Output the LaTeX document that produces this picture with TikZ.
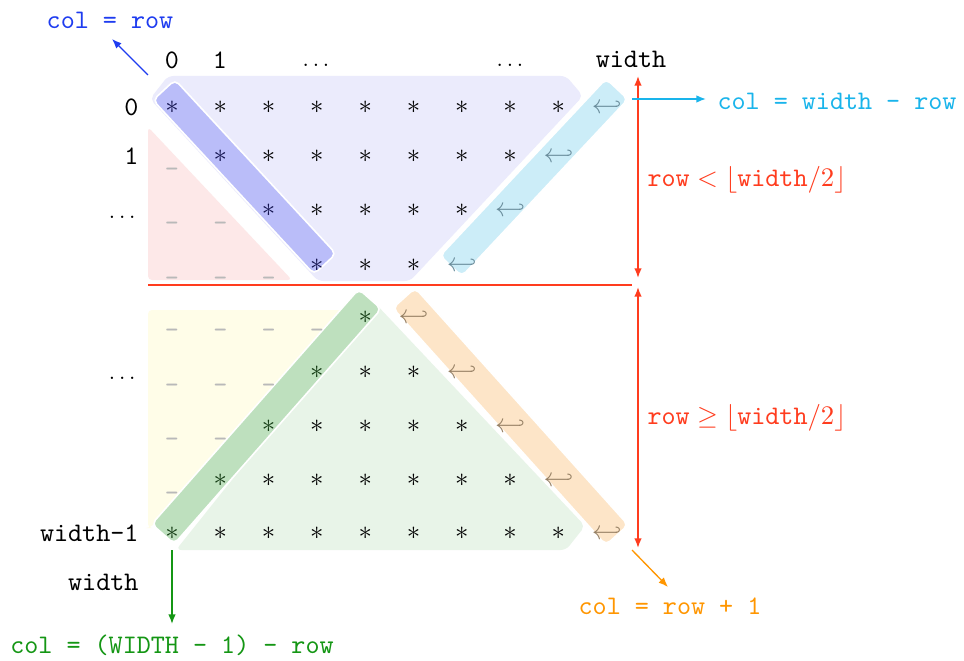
\documentclass[tikz,border=0pt]{standalone}
\usepackage{fontspec}
\usetikzlibrary{calc,arrows.meta}
\definecolor{lav}{RGB}{235,235,252}
\definecolor{pinkbg}{RGB}{253,232,232}
\definecolor{yelbg}{RGB}{255,253,232}
\definecolor{grnbg}{RGB}{232,244,232}
\definecolor{bandblue}{RGB}{186,189,249}
\definecolor{bandcyan}{RGB}{204,237,248}
\definecolor{bandorange}{RGB}{253,229,200}
\definecolor{bandgreen}{RGB}{190,224,190}
\definecolor{cred}{RGB}{255,60,30}
\definecolor{cblue}{RGB}{30,60,240}
\definecolor{ccyan}{RGB}{25,180,235}
\definecolor{corange}{RGB}{255,150,0}
\definecolor{cgreen}{RGB}{20,150,20}
\definecolor{dashgray}{RGB}{185,185,185}
\definecolor{navy}{RGB}{20,20,80}
\definecolor{dgreen}{RGB}{20,60,20}
\definecolor{hookcyan}{RGB}{105,140,155}
\definecolor{hookorange}{RGB}{150,128,100}
\newcommand\bandfill[4]{%
  \coordinate (bA) at #2; \coordinate (bB) at #3;
  \fill[#1, draw=white, line width=0.6pt, rounded corners=2pt]
    ($(bA)!#4!90:(bB)$) -- ($(bB)!#4!-90:(bA)$) -- ($(bB)!#4!90:(bA)$) -- ($(bA)!#4!-90:(bB)$) -- cycle;
}
\newcommand\smalldots{{\footnotesize$\ldots$}}
\tikzset{
  starn/.style={inner sep=0pt},
  hookn/.style={inner sep=0pt},
  dashn/.style={inner sep=0pt, text=dashgray, font=\ttfamily},
  tt/.style={inner sep=0pt, font=\ttfamily},
  dotn/.style={inner sep=0pt},
  arr/.style={-{Latex[length=3.6pt,width=2.8pt]}, line width=0.5pt},
  darr/.style={{Latex[length=3.6pt,width=2.8pt]}-{Latex[length=3.6pt,width=2.8pt]}, line width=0.6pt},
}
\begin{document}
\begin{tikzpicture}[x=0.3735pt,y=-0.3735pt]
\useasboundingbox (0,0) rectangle (964,660);
\fill[white] (0,0) rectangle (964,660);
% background regions
\fill[lav, rounded corners=2pt] (150,99) -- (168,76) -- (566,76) -- (583,96) -- (410,281) -- (318,281) -- cycle;
\fill[pinkbg, rounded corners=1.5pt] (148,127) -- (148,280) -- (292,280) -- cycle;
\fill[yelbg, rounded corners=1.5pt] (148,310) -- (352,310) -- (150,528) -- (148,528) -- cycle;
\fill[grnbg, rounded corners=2pt] (374,302) -- (585,526) -- (566,550) -- (176,550) -- cycle;
% bands
\bandfill{bandblue}{(164,90)}{(325,264)}{5.6pt}
\bandfill{bandcyan}{(617,89)}{(451,266)}{5.6pt}
\bandfill{bandorange}{(404,298)}{(617,535)}{5.6pt}
\bandfill{bandgreen}{(370,299)}{(163,534)}{5.6pt}
% upper half
\foreach \r/\y in {0/107,1/156,2/210,3/265}{
  \ifnum\r>0
    \foreach \c in {1,...,\r}{\node[dashn] (d\r-\c) at ({172+48.3*(\c-1)},{\y+12}) {\_};}
  \fi
  \pgfmathtruncatemacro\cs{\r+1}
  \pgfmathtruncatemacro\ce{8-\r}
  \pgfmathtruncatemacro\ch{9-\r}
  \node[starn, text=navy] (s\r-\r) at ({172+48.3*\r},\y) {$*$};
  \foreach \c in {\cs,...,\ce}{\node[starn] (s\r-\c) at ({172+48.3*\c},\y) {$*$};}
  \node[hookn, text=hookcyan] (h\r) at ({172+48.3*\ch},\y) {$\hookleftarrow$};
}
% lower half
\foreach \k/\y in {0/317,1/372,2/426,3/480,4/533}{
  \pgfmathtruncatemacro\nd{4-\k}
  \ifnum\nd>0
    \foreach \c in {1,...,\nd}{\node[dashn] (e\k-\c) at ({172+48.3*(\c-1)},{\y+12}) {\_};}
  \fi
  \pgfmathtruncatemacro\cd{4-\k}
  \node[starn, text=dgreen] (t\k-\cd) at ({172+48.3*\cd},\y) {$*$};
  \ifnum\k>0
    \pgfmathtruncatemacro\cs{5-\k}
    \pgfmathtruncatemacro\ce{4+\k}
    \foreach \c in {\cs,...,\ce}{\node[starn] (t\k-\c) at ({172+48.3*\c},\y) {$*$};}
  \fi
  \pgfmathtruncatemacro\ch{5+\k}
  \node[hookn, text=hookorange] (g\k) at ({172+48.3*\ch},\y) {$\hookleftarrow$};
}
% column labels
\node[tt] (c0) at (172,60) {0};
\node[tt] (c1) at (220,60) {1};
\node[dotn] (c2) at (316,65) {\smalldots};
\node[dotn] (c3) at (510,65) {\smalldots};
\node[tt] (cw) at (631,59) {width};
% row labels
\node[tt, anchor=east] (r0) at (139,107) {0};
\node[tt, anchor=east] (r1) at (139,156) {1};
\node[dotn, anchor=east] (r2) at (136,217) {\smalldots};
\node[dotn, anchor=east] (r3) at (136,378) {\smalldots};
\node[tt, anchor=east] (rw1) at (139,533) {width-1};
\node[tt, anchor=east] (rw) at (139,582) {width};
% red divider and ranges
\coordinate (ls) at (148,285); \coordinate (le) at (632,285);
\draw[cred, line width=0.8pt] (ls) -- (le);
\coordinate (r1a) at (638,76); \coordinate (r1b) at (638,278);
\coordinate (r2a) at (638,287); \coordinate (r2b) at (638,548);
\draw[darr, cred] (r1a) -- (r1b);
\draw[darr, cred] (r2a) -- (r2b);
\node[inner sep=0pt, anchor=west, text=cred] (lblLess) at (647,180) {$\texttt{row} < \lfloor\texttt{width}/2\rfloor$};
\node[inner sep=0pt, anchor=west, text=cred] (lblGeq) at (647,418) {$\texttt{row} \geq \lfloor\texttt{width}/2\rfloor$};
% pointer labels
\node[tt, text=cblue] (lblBlue) at (110,20) {col = row};
\coordinate (bS) at (148,75); \coordinate (bT) at (112,39);
\draw[arr, cblue] (bS) -- (bT);
\node[tt, text=ccyan, anchor=west] (lblCyan) at (717,101) {col = width - row};
\coordinate (cS) at (632,99); \coordinate (cT) at (706,99);
\draw[arr, ccyan] (cS) -- (cT);
\node[tt, text=corange] (lblOrange) at (670,606) {col = row + 1};
\coordinate (oS) at (632,550); \coordinate (oT) at (668,587);
\draw[arr, corange] (oS) -- (oT);
\node[tt, text=cgreen] (lblGreen) at (172,645) {col = (WIDTH - 1) - row};
\coordinate (gS) at (172,550); \coordinate (gT) at (172,624);
\draw[arr, cgreen] (gS) -- (gT);
\end{tikzpicture}
\end{document}
